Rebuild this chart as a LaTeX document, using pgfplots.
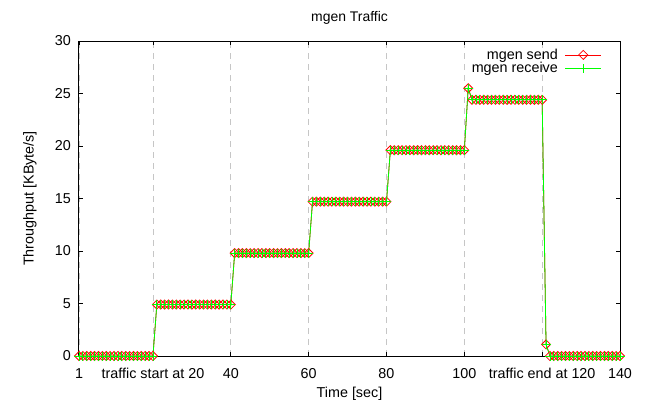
\documentclass[border=0pt]{standalone}
\usepackage{pgfplots}
\pgfplotsset{compat=1.18}
\usepackage{pgfplotstable}
\usepackage{fontspec}
\setmainfont{Liberation Sans}

\pgfplotstableread{
t send recv
1 0 0
2 0 0
3 0 0
4 0 0
5 0 0
6 0 0
7 0 0
8 0 0
9 0 0
10 0 0
11 0 0
12 0 0
13 0 0
14 0 0
15 0 0
16 0 0
17 0 0
18 0 0
19 0 0
20 0 0
21 4.9 4.9
22 4.9 4.9
23 4.9 4.9
24 4.9 4.9
25 4.9 4.9
26 4.9 4.9
27 4.9 4.9
28 4.9 4.9
29 4.9 4.9
30 4.9 4.9
31 4.9 4.9
32 4.9 4.9
33 4.9 4.9
34 4.9 4.9
35 4.9 4.9
36 4.9 4.9
37 4.9 4.9
38 4.9 4.9
39 4.9 4.9
40 4.9 4.9
41 9.8 9.8
42 9.8 9.8
43 9.8 9.8
44 9.8 9.8
45 9.8 9.8
46 9.8 9.8
47 9.8 9.8
48 9.8 9.8
49 9.8 9.8
50 9.8 9.8
51 9.8 9.8
52 9.8 9.8
53 9.8 9.8
54 9.8 9.8
55 9.8 9.8
56 9.8 9.8
57 9.8 9.8
58 9.8 9.8
59 9.8 9.8
60 9.8 9.8
61 14.7 14.7
62 14.7 14.7
63 14.7 14.7
64 14.7 14.7
65 14.7 14.7
66 14.7 14.7
67 14.7 14.7
68 14.7 14.7
69 14.7 14.7
70 14.7 14.7
71 14.7 14.7
72 14.7 14.7
73 14.7 14.7
74 14.7 14.7
75 14.7 14.7
76 14.7 14.7
77 14.7 14.7
78 14.7 14.7
79 14.7 14.7
80 14.7 14.7
81 19.6 19.6
82 19.6 19.6
83 19.6 19.6
84 19.6 19.6
85 19.6 19.6
86 19.6 19.6
87 19.6 19.6
88 19.6 19.6
89 19.6 19.6
90 19.6 19.6
91 19.6 19.6
92 19.6 19.6
93 19.6 19.6
94 19.6 19.6
95 19.6 19.6
96 19.6 19.6
97 19.6 19.6
98 19.6 19.6
99 19.6 19.6
100 19.6 19.6
101 25.5 25.5
102 24.4 24.4
103 24.4 24.4
104 24.4 24.4
105 24.4 24.4
106 24.4 24.4
107 24.4 24.4
108 24.4 24.4
109 24.4 24.4
110 24.4 24.4
111 24.4 24.4
112 24.4 24.4
113 24.4 24.4
114 24.4 24.4
115 24.4 24.4
116 24.4 24.4
117 24.4 24.4
118 24.4 24.4
119 24.4 24.4
120 24.4 24.4
121 1.1 1.1
122 0 0
123 0 0
124 0 0
125 0 0
126 0 0
127 0 0
128 0 0
129 0 0
130 0 0
131 0 0
132 0 0
133 0 0
134 0 0
135 0 0
136 0 0
137 0 0
138 0 0
139 0 0
140 0 0
}\traffic

\begin{document}
\begin{tikzpicture}
\useasboundingbox (-79bp,-53bp) rectangle (572bp,356bp);
\begin{axis}[
  scale only axis, width=541bp, height=315bp,
  at={(0,0)}, anchor=south west,
  xmin=1, xmax=140, ymin=0, ymax=30,
  xtick={1,20,40,60,80,100,120,140},
  xticklabels={1,traffic start at 20,40,60,80,100,traffic end at 120,140},
  ytick={0,5,10,15,20,25,30},
  tick align=inside, major tick length=4bp,
  tick style={black, line width=0.8bp},
  axis line style={line width=1bp},
  xmajorgrids,
  major grid style={gray!45, line width=0.8bp, dash pattern=on 6bp off 5bp},
  font=\fontsize{14.4}{17}\selectfont,
  /pgf/number format/assume math mode=true,
  yticklabel style={inner sep=0pt, xshift=-8bp},
  xticklabel style={inner sep=0pt, text height=10.5bp, text depth=3bp, yshift=-11.5bp},
  title={mgen Traffic},
  title style={at={(axis description cs:0.5,1)}, anchor=base, yshift=14bp, inner sep=0pt, font=\fontsize{14}{16}\selectfont},
  xlabel={Time [sec]},
  xlabel style={at={(axis description cs:0.5,-0.1333)}, anchor=base, inner sep=0pt},
  ylabel={Throughput [KByte/s]},
  ylabel style={at={(axis description cs:-0.0906,0.5)}, anchor=center, rotate=0, inner sep=0pt},
  legend style={draw=none, fill=none, at={(axis description cs:0.972,0.988)}, anchor=north east, row sep=-2.5bp,
    /tikz/every odd column/.append style={column sep=5bp}},
  legend cell align=right,
  legend plot pos=right,
  legend image code/.code={\draw[mark repeat=2,mark phase=2] plot coordinates {(0bp,0bp) (18bp,0bp) (36bp,0bp)};},
]
\addplot[red, line width=0.8bp, mark=square, mark size=3.2bp, mark options={rotate=45, solid, line width=0.8bp}] table[x=t, y=send] {\traffic};
\addlegendentry{mgen send}
\addplot[green, line width=0.8bp, mark=+, mark size=4.5bp, mark options={solid, line width=0.8bp}] table[x=t, y=recv] {\traffic};
\addlegendentry{mgen receive}
\end{axis}
\end{tikzpicture}
\end{document}
